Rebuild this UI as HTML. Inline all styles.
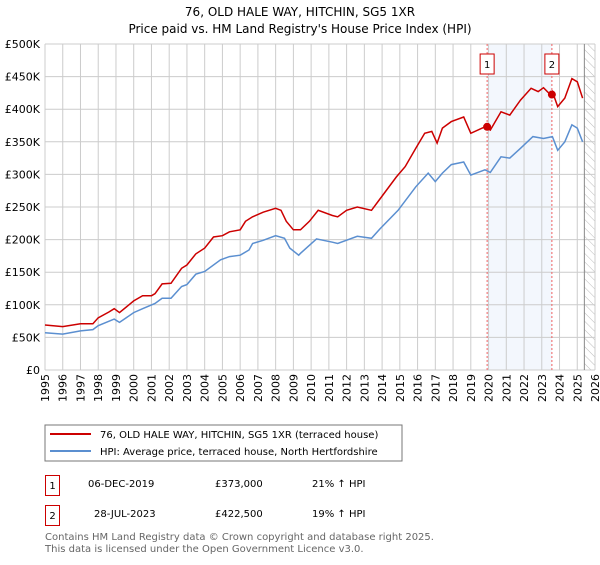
<!DOCTYPE html>
<html><head><meta charset="utf-8"><style>
body{margin:0;background:#fff;}
svg{font-family:"DejaVu Sans","Liberation Sans",sans-serif;}
</style></head><body>
<svg id="chart" width="600" height="560" viewBox="0 0 600 560" xmlns="http://www.w3.org/2000/svg">
<text x="300" y="16" text-anchor="middle" font-size="12" fill="#000">76, OLD HALE WAY, HITCHIN, SG5 1XR</text>
<text x="300" y="33" text-anchor="middle" font-size="12" fill="#000">Price paid vs. HM Land Registry's House Price Index (HPI)</text>
<defs><pattern id="hatch" width="6" height="6" patternUnits="userSpaceOnUse" patternTransform="rotate(-45)"><line x1="0" y1="0" x2="0" y2="6" stroke="#bbb" stroke-width="1"/></pattern></defs>
<g id="grid"></g><g id="marks"></g><g id="axes"></g>
<g>
<rect x="45" y="425" width="357" height="36" fill="#fff" stroke="#777"/>
<line x1="50" y1="434" x2="91" y2="434" stroke="#cc0000" stroke-width="2"/>
<text x="100" y="438" font-size="10">76, OLD HALE WAY, HITCHIN, SG5 1XR (terraced house)</text>
<line x1="50" y1="451" x2="91" y2="451" stroke="#5b8fd0" stroke-width="2"/>
<text x="100" y="455" font-size="10">HPI: Average price, terraced house, North Hertfordshire</text>
</g>
<g font-size="10">
<rect x="45.5" y="475.5" width="14" height="20" fill="#fff" stroke="#cc0000"/><text x="52.5" y="489" text-anchor="middle">1</text>
<text x="88" y="487">06-DEC-2019</text><text x="215" y="487">£373,000</text><text x="312" y="487">21% ↑ HPI</text>
<rect x="45.5" y="505.5" width="14" height="20" fill="#fff" stroke="#cc0000"/><text x="52.5" y="519" text-anchor="middle">2</text>
<text x="94" y="517">28-JUL-2023</text><text x="215" y="517">£422,500</text><text x="312" y="517">19% ↑ HPI</text>
</g>
<text x="45" y="540" font-size="10" fill="#666">Contains HM Land Registry data © Crown copyright and database right 2025.</text>
<text x="45" y="552" font-size="10" fill="#666">This data is licensed under the Open Government Licence v3.0.</text>
</svg>
<script>
const yTicks=[0,50,100,150,200,250,300,350,400,450,500];
const yTickLabels=["£0","£50K","£100K","£150K","£200K","£250K","£300K","£350K","£400K","£450K","£500K"];
const xYears=[1995,1996,1997,1998,1999,2000,2001,2002,2003,2004,2005,2006,2007,2008,2009,2010,2011,2012,2013,2014,2015,2016,2017,2018,2019,2020,2021,2022,2023,2024,2025,2026];
const redDates=[1995,1996,1997,1997.7,1998,1998.6,1998.9,1999.2,2000,2000.5,2001,2001.2,2001.6,2002.1,2002.7,2003,2003.5,2004,2004.5,2005,2005.4,2006,2006.3,2006.7,2007.3,2008,2008.3,2008.6,2009,2009.4,2009.9,2010.4,2011.2,2011.5,2012,2012.6,2013.4,2013.9,2014.8,2015.3,2015.9,2016.4,2016.8,2017.1,2017.4,2017.9,2018.6,2019,2019.8,2020.1,2020.7,2021.2,2021.8,2022.4,2022.8,2023.1,2023.5,2023.6,2023.9,2024.3,2024.7,2025,2025.3];
const redValues=[69,66.6,71,71,80,89,94,88,106,114,114,117,132,133,156,161,178,187,204,206,212,215,228,235,242,248,245,228,215,215,228,245,237,235,245,250,245,263,296,312,340,363,366,348,371,381,388,363,373,368,396,391,414,432,427,433,422,427,404,417,447,442,417];
const blueDates=[1995,1996,1997,1997.7,1998,1998.9,1999.2,2000,2000.5,2001.2,2001.6,2002.1,2002.7,2003,2003.5,2004,2004.9,2005.4,2006,2006.5,2006.7,2007.3,2008,2008.5,2008.8,2009.3,2009.4,2010.3,2011.2,2011.5,2012.6,2013.4,2013.9,2014.9,2015.9,2016.6,2017,2017.4,2017.9,2018.6,2019,2019.8,2020.1,2020.7,2021.2,2021.8,2022.5,2023.1,2023.6,2023.9,2024.3,2024.7,2025,2025.3];
const blueValues=[57,55,60,62,68,78,73,88,94,102,110,110,128,131,147,151,169,174,176,184,194,199,206,202,187,176,179,201,196,194,205,202,217,245,281,302,289,302,315,319,299,307,303,327,325,340,358,355,358,337,350,376,371,350];
const sales=[{label:"1",date:2019.92,value:373},{label:"2",date:2023.57,value:422.5}];
const X0=45,X1=595,Y0=370,Y1=44;
const xs=d=>X0+(d-1995)*(X1-X0)/31;
const ys=v=>Y0-v*(Y0-Y1)/500;
const NS="http://www.w3.org/2000/svg";
function mk(tag,attrs,parent){const e=document.createElementNS(NS,tag);for(const k in attrs)e.setAttribute(k,attrs[k]);parent.appendChild(e);return e;}
const grid=document.getElementById('grid'),marks=document.getElementById('marks'),axes=document.getElementById('axes');
// shaded region
let sh=mk('rect',{x:xs(sales[0].date),y:Y1,width:xs(sales[1].date)-xs(sales[0].date),height:Y0-Y1,fill:'#eef3fc',opacity:0.7},grid);


let ht=mk('rect',{x:xs(2025.4),y:Y1,width:X1-xs(2025.4),height:Y0-Y1,fill:'url(#hatch)'},grid);


yTicks.forEach((t,i)=>{
 const l=mk('line',{x1:X0,x2:X1,y1:ys(t),y2:ys(t),stroke:'#ccc','stroke-width':1},grid);
 
 
 const tx=mk('text',{x:40,y:ys(t)+4,'text-anchor':'end','font-size':11},axes);
 tx.textContent=yTickLabels[i];
 
 
});
xYears.forEach(yr=>{
 const l=mk('line',{x1:xs(yr),x2:xs(yr),y1:Y1,y2:Y0,stroke:'#ccc','stroke-width':1},grid);
 
 
 const tx=mk('text',{x:0,y:0,'text-anchor':'end','font-size':11,transform:`translate(${xs(yr)+4},374) rotate(-90)`},axes);
 tx.textContent=yr;
 
 
});
let vl=mk('line',{x1:xs(2025.4),x2:xs(2025.4),y1:Y1,y2:Y0,stroke:'#888','stroke-width':1},grid);


sales.forEach(s=>{
 const l=mk('line',{x1:xs(s.date),x2:xs(s.date),y1:Y1,y2:Y0,stroke:'#f06060','stroke-width':1,'stroke-dasharray':'2,2'},marks);
 
 
 const b=mk('rect',{x:xs(s.date)-7,y:54,width:14,height:20,fill:'#fff',stroke:'#cc0000'},marks);
 
 
 const t=mk('text',{x:xs(s.date),y:68,'text-anchor':'middle','font-size':10},marks);
 t.textContent=s.label;
 
 
});
function path(d,v,color,name){
 const p=mk('path',{d:d.map((x,i)=>(i?'L':'M')+xs(x).toFixed(1)+','+ys(v[i]).toFixed(1)).join(''),fill:'none',stroke:color,'stroke-width':1.5},marks);
 
 
}
path(blueDates,blueValues,'#5b8fd0','hpi-line');
path(redDates,redValues,'#cc0000','property-price-line');
sales.forEach(s=>{
 const c=mk('circle',{cx:xs(s.date),cy:ys(s.value),r:4,fill:'#cc0000'},marks);
 
 
});
</script>
</body></html>
